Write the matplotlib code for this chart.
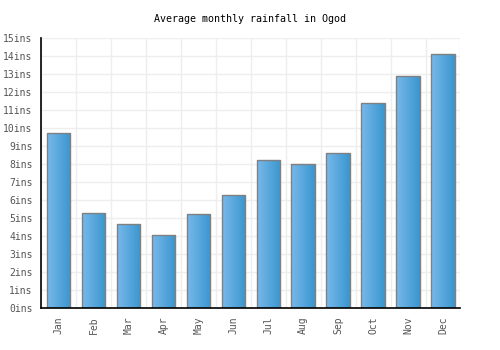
import matplotlib
matplotlib.use("Agg")
import matplotlib.pyplot as plt
import numpy as np
from matplotlib.colors import LinearSegmentedColormap

months = ["Jan", "Feb", "Mar", "Apr", "May", "Jun", "Jul", "Aug", "Sep", "Oct", "Nov", "Dec"]
rainfall = [9.72, 5.28, 4.7, 4.09, 5.26, 6.28, 8.22, 8.0, 8.61, 11.39, 12.89, 14.11]
yticks = list(range(0, 16))
ytick_labels = [f"{v}ins" for v in yticks]
title = "Average monthly rainfall in Ogod"

plt.rcParams['font.family'] = ['DejaVu Sans Mono']

fig = plt.figure(figsize=(5, 3.5), dpi=100)
ax = fig.add_axes([41/500, 1 - 308.3/350, (460.5-41)/500, (308.3-38.3)/350])

x = np.arange(len(months))
bars = ax.bar(x, rainfall, width=0.67, color='none', edgecolor='#808080', linewidth=1.0, zorder=3)

cmap = LinearSegmentedColormap.from_list('g', ['#78b8ea', '#3a96cf'])
grad = np.linspace(0, 1, 64).reshape(1, -1)
for b in bars:
    x0, y0 = b.get_x(), b.get_y()
    w, h = b.get_width(), b.get_height()
    im = ax.imshow(grad, cmap=cmap, aspect='auto', extent=[x0, x0 + w, y0, y0 + h],
                   zorder=2, interpolation='bilinear')
    im.set_clip_path(b)

ax.set_xlim(-0.5, len(months) - 0.5)
ax.set_ylim(0, 15)
ax.set_yticks(yticks)
ax.set_yticklabels(ytick_labels)
ax.set_xticks(x)
ax.set_xticklabels(months, rotation=90)
ax.set_xticks(np.arange(-0.5, len(months), 1), minor=True)

ax.grid(True, axis='y', which='major', color='#eeeeee', linewidth=1, zorder=0)
ax.grid(True, axis='x', which='minor', color='#eeeeee', linewidth=1, zorder=0)
ax.set_axisbelow(True)

ax.tick_params(axis='both', which='both', length=0, labelsize=7, labelcolor='#555555')
ax.tick_params(axis='y', pad=6)
ax.tick_params(axis='x', pad=6)

for s in ['top', 'right']:
    ax.spines[s].set_visible(False)
ax.spines['left'].set_color('black')
ax.spines['bottom'].set_color('black')
ax.spines['left'].set_linewidth(1.2)
ax.spines['bottom'].set_linewidth(1.2)
ax.spines['left'].set_zorder(4)
ax.spines['bottom'].set_zorder(4)

fig.text(0.5, 1 - 19/350, title, ha='center', va='center', fontsize=7.2, color='black')

fig.savefig("out.png", dpi=100)
